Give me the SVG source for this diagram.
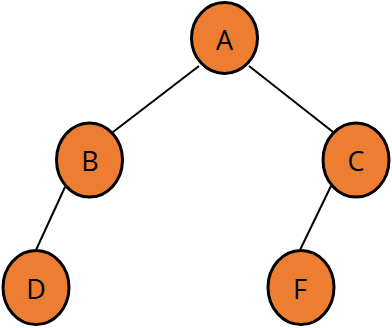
<svg xmlns="http://www.w3.org/2000/svg" width="392" height="328" viewBox="0 0 392 328">
<style>
.n ellipse{fill:#ed7d31;stroke:#000;stroke-width:3}
.n text{font-family:"Open Sans","Noto Sans",sans-serif;font-size:27px;fill:#000;text-anchor:middle}
.e line{stroke:#000;stroke-width:2}
</style>
<rect width="392" height="328" fill="#fff"/>
<g id="connectors" class="e">
<line x1="199" y1="66" x2="113" y2="132"/>
<line x1="249" y1="66" x2="333" y2="132"/>
<line x1="65" y1="187" x2="36" y2="250"/>
<line x1="331" y1="186" x2="300" y2="250"/>
</g>
<g id="A" class="n"><ellipse cx="224.5" cy="38" rx="33" ry="35.5"/><text x="224.5" y="50">A</text></g>
<g id="B" class="n"><ellipse cx="89.5" cy="160" rx="33" ry="37"/><text x="90" y="171">B</text></g>
<g id="C" class="n"><ellipse cx="356" cy="160" rx="33" ry="37"/><text x="356" y="171">C</text></g>
<g id="D" class="n"><ellipse cx="36" cy="287.5" rx="33" ry="37"/><text x="36" y="299">D</text></g>
<g id="F" class="n"><ellipse cx="301" cy="287.5" rx="33" ry="37"/><text x="300" y="299">F</text></g>
</svg>
